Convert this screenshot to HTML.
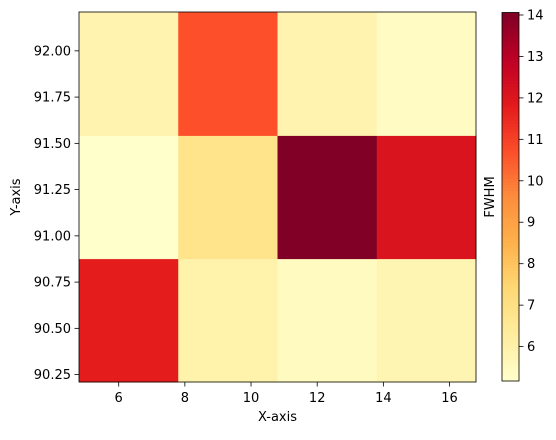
<!DOCTYPE html>
<html><head><meta charset="utf-8"><style>
body{margin:0;background:#fff;font-family:"Liberation Sans","DejaVu Sans",sans-serif;}
svg text{font-family:"DejaVu Sans","Liberation Sans",sans-serif;font-size:13px;fill:#000;}
</style></head><body>
<svg id="c" width="556" height="435" xmlns="http://www.w3.org/2000/svg"></svg>
<script>
const xEdges=[4.8,7.8,10.8,13.8,16.8];
const yEdges=[90.21,90.877,91.543,92.21];
// rows from bottom to top
const values=[[11.8,6.0,5.5,5.8],[5.17,6.8,14.06,12.1],[5.9,10.7,5.9,5.4]];
const xTicks=[6,8,10,12,14,16];
const yTicks=[90.25,90.5,90.75,91.0,91.25,91.5,91.75,92.0];
const cTicks=[6,7,8,9,10,11,12,13,14];
const vmin=5.17,vmax=14.06;
const cmap=["#ffffcc","#ffeda0","#fed976","#feb24c","#fd8d3c","#fc4e2a","#e31a1c","#bd0026","#800026"];
const L=79,R=476,T=12,B=382;
const sx=v=>L+(v-xEdges[0])/(xEdges[xEdges.length-1]-xEdges[0])*(R-L);
const sy=v=>B-(v-yEdges[0])/(yEdges[yEdges.length-1]-yEdges[0])*(B-T);
const CL=502,CR=519,CT=12.5,CB=381;
const cy=v=>CB-(v-vmin)/(vmax-vmin)*(CB-CT);
function col(v){let t=Math.max(0,Math.min(1,(v-vmin)/(vmax-vmin)))*(cmap.length-1);let i=Math.min(Math.floor(t),cmap.length-2),f=t-i;
const a=cmap[i],b=cmap[i+1];const p=(h,k)=>parseInt(h.substr(1+2*k,2),16);
return "rgb("+[0,1,2].map(k=>Math.round(p(a,k)+(p(b,k)-p(a,k))*f)).join(",")+")";}
const svg=document.getElementById('c');const NS="http://www.w3.org/2000/svg";
function el(tag,attrs,txt){const e=document.createElementNS(NS,tag);for(const k in attrs)e.setAttribute(k,attrs[k]);if(txt!==undefined)e.textContent=txt;svg.appendChild(e);return e;}
values.forEach((row,r)=>row.forEach((v,c)=>{
const x0=sx(xEdges[c]),x1=sx(xEdges[c+1]),y0=sy(yEdges[r+1]),y1=sy(yEdges[r]);
const e=el('rect',{x:x0,y:y0,width:x1-x0+0.5,height:y1-y0+0.5,fill:col(v)});

}));
const fr=el('rect',{x:L,y:T,width:R-L,height:B-T,fill:'none',stroke:'#000','stroke-width':0.8});

xTicks.forEach(v=>{const x=sx(v);el('line',{x1:x,x2:x,y1:B,y2:B+4.5,stroke:'#000','stroke-width':0.8});
const t=el('text',{x:x,y:B+20,'text-anchor':'middle'},String(v));});
yTicks.forEach(v=>{const y=sy(v);el('line',{x1:L,x2:L-4.5,y1:y,y2:y,stroke:'#000','stroke-width':0.8});
const t=el('text',{x:L-8,y:y+4.5,'text-anchor':'end'},v.toFixed(2));});
const xl=el('text',{x:(L+R)/2,y:421,'text-anchor':'middle'},'X-axis');
const yl=el('text',{x:0,y:0,'text-anchor':'middle',transform:'translate(20,'+((T+B)/2)+') rotate(-90)'},'Y-axis');
// colorbar
const N=120;for(let i=0;i<N;i++){const v0=vmin+(vmax-vmin)*i/N,v1=vmin+(vmax-vmin)*(i+1)/N;
el('rect',{x:CL,y:cy(v1),width:CR-CL,height:cy(v0)-cy(v1)+0.6,fill:col((v0+v1)/2)});}
const cf=el('rect',{x:CL,y:CT,width:CR-CL,height:CB-CT,fill:'none',stroke:'#000','stroke-width':0.8});

cTicks.forEach(v=>{const y=cy(v);el('line',{x1:CR,x2:CR+4.5,y1:y,y2:y,stroke:'#000','stroke-width':0.8});
const t=el('text',{x:CR+8,y:y+4.5},String(v));});
const cl=el('text',{x:0,y:0,'text-anchor':'middle',transform:'translate(494,'+((T+B)/2)+') rotate(-90)'},'FWHM');
</script>
</body></html>
